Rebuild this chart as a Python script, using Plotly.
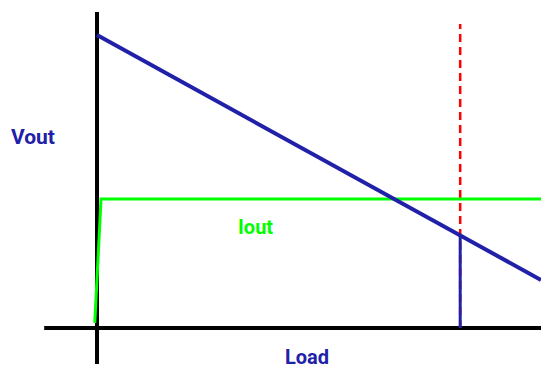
import plotly.graph_objects as go

# Schematic load line: output voltage falls with load, output current limited.
load_vout = [0.0, 10.0]
vout = [9.27, 1.52]

load_iout = [-0.05, 0.09, 10.0]
iout = [0.16, 4.08, 4.08]

# Operating point marked by the dashed line
load_point = 8.18
vout_point = vout[0] + (vout[1] - vout[0]) * load_point / load_vout[1]
marker_top = 9.62

# Axis extents (data units)
x_axis_span = [-1.19, 10.0]
y_axis_span = [-1.14, 10.0]

BLUE = "#2020a8"
GREEN = "#00ff00"
RED = "#ff0000"
FONT = "Roboto, Liberation Sans, sans-serif"

fig = go.Figure()

# axes
fig.add_shape(type="line", x0=x_axis_span[0], x1=x_axis_span[1], y0=0, y1=0,
              line=dict(color="black", width=4), layer="below")
fig.add_shape(type="line", x0=0, x1=0, y0=y_axis_span[0], y1=y_axis_span[1],
              line=dict(color="black", width=4), layer="below")

# dashed operating-point marker
fig.add_trace(go.Scatter(x=[load_point, load_point], y=[0, marker_top], mode="lines",
                         line=dict(color=RED, width=2.5, dash="8px,5px"),
                         hoverinfo="skip"))

fig.add_trace(go.Scatter(x=load_iout, y=iout, mode="lines",
                         line=dict(color=GREEN, width=3), name="Iout"))
fig.add_trace(go.Scatter(x=load_vout, y=vout, mode="lines",
                         line=dict(color=BLUE, width=4), name="Vout"))
fig.add_trace(go.Scatter(x=[load_point, load_point], y=[0, vout_point], mode="lines",
                         line=dict(color=BLUE, width=3), hoverinfo="skip"))

labels = [
    ("Vout", -1.45, 6.04, BLUE, 21),
    ("Iout", 3.57, 3.2, GREEN, 20),
    ("Load", 4.73, -0.93, BLUE, 20),
]
for text, x, y, color, size in labels:
    fig.add_annotation(x=x, y=y, text=f"<b>{text}</b>", showarrow=False,
                       font=dict(family=FONT, size=size, color=color),
                       xanchor="center", yanchor="middle", borderpad=0)

fig.update_layout(
    width=541, height=367,
    margin=dict(l=0, r=0, t=0, b=0),
    paper_bgcolor="white", plot_bgcolor="white",
    showlegend=False,
    xaxis=dict(range=[-2.185, 10.0], visible=False, fixedrange=True),
    yaxis=dict(range=[-1.234, 10.38], visible=False, fixedrange=True),
)

# drop the default page margin so the figure fills the window exactly
fig.write_html(
    "out.html",
    config={"displayModeBar": False},
    post_script="document.body.style.margin='0';document.body.style.overflow='hidden';",
)
